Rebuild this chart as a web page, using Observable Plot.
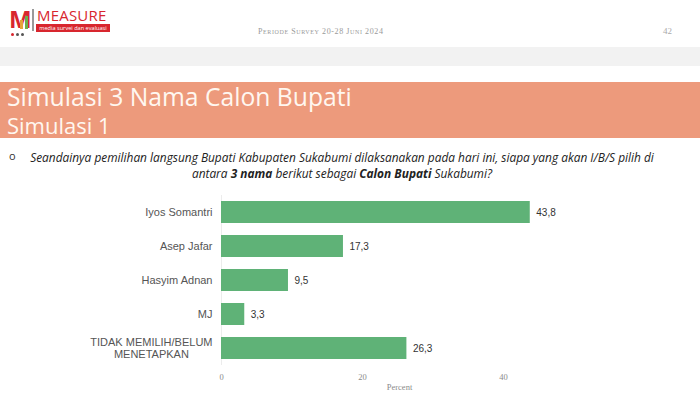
<!DOCTYPE html>
<html>
<head>
<meta charset="utf-8">
<script src="https://cdn.jsdelivr.net/npm/d3@7"></script>
<script src="https://cdn.jsdelivr.net/npm/@observablehq/plot@0.6"></script>
<style>
  html, body { margin: 0; padding: 0; background: #fff; }
  #page { position: relative; width: 700px; height: 400px; overflow: hidden; font-family: "Open Sans", sans-serif; }
  .abs { position: absolute; white-space: nowrap; }
  #logoM { left: 9px; top: 7px; font: bold 24px "Open Sans", sans-serif; color: #d8262e; line-height: 24px; }
  #logoBar { left: 32px; top: 9px; width: 2px; height: 22px; background: #9a9a9a; }
  #logoText { left: 37px; top: 8px; font: 15px "Open Sans", sans-serif; color: #d8262e; line-height: 15px; letter-spacing: 0.2px; }
  #logoSub { left: 36px; top: 24px; width: 74px; height: 8px; background: #d8262e; color: #fff; font: 5.6px "Open Sans", sans-serif; line-height: 8px; text-align: center; overflow: hidden; }
  .dot { position: absolute; width: 3px; height: 3px; background: #555; border-radius: 50%; }
  #periode { left: 258px; top: 27px; font: 8px "Liberation Serif", serif; color: #9a9a9a; font-variant: small-caps; letter-spacing: 0.6px; }
  #page42 { left: 663px; top: 26px; font: 9px "Liberation Serif", serif; color: #aaa; }
  #grayband { left: 0; top: 47px; width: 700px; height: 19px; background: #f2f2f2; }
  #band { left: 0; top: 82px; width: 700px; height: 56px; background: #ed9a7c; }
  #title1 { left: 7px; top: 85px; font: 24.7px "Open Sans", sans-serif; color: #fff7f0; line-height: 24px; }
  #title2 { left: 7px; top: 114px; font: 22px "Open Sans", sans-serif; color: #fff7f0; line-height: 22px; }
  #bullet { left: 9px; top: 148px; font: 11px "Open Sans", sans-serif; color: #333; }
  #question { left: 16px; top: 149px; width: 652px; text-align: center; font: italic 11.9px "Open Sans", sans-serif; color: #222; line-height: 16px; }
  #chart { left: 0; top: 190px; }
</style>
</head>
<body>
<div id="page">
  <div class="abs" id="logoM">M</div>
  <div class="dot" style="left:11px;top:33px;background:#d8262e"></div>
  <div class="dot" style="left:16px;top:33px;background:#555"></div>
  <div class="dot" style="left:21px;top:33px;background:#555"></div>
  <div class="abs" style="left:20px;top:20px;width:3px;height:9px;background:#e8a33a"></div>
  <div class="abs" style="left:25px;top:16px;width:3px;height:13px;background:#6cb04a"></div>
  <div class="abs" id="logoBar"></div>
  <div class="abs" id="logoText">MEASURE</div>
  <div class="abs" id="logoSub">media survei dan evaluasi</div>
  <div class="abs" id="periode">Periode Survey 20-28 Juni 2024</div>
  <div class="abs" id="page42">42</div>
  <div class="abs" id="grayband"></div>
  <div class="abs" id="band"></div>
  <div class="abs" id="title1">Simulasi 3 Nama Calon Bupati</div>
  <div class="abs" id="title2">Simulasi 1</div>
  <div class="abs" id="bullet">o</div>
  <div class="abs" id="question">Seandainya pemilihan langsung Bupati Kabupaten Sukabumi dilaksanakan pada hari ini, siapa yang akan I/B/S pilih di<br>antara <b>3 nama</b> berikut sebagai <b>Calon Bupati</b> Sukabumi?</div>
  <div class="abs" id="chart"></div>
</div>
<script>
const categories = ["Iyos Somantri", "Asep Jafar", "Hasyim Adnan", "MJ", "TIDAK MEMILIH/BELUM\nMENETAPKAN"];
const values = [43.8, 17.3, 9.5, 3.3, 26.3];
const xTicks = [0, 20, 40];

const data = categories.map((c, i) => ({ name: c, value: values[i] }));
const fmt = v => v.toFixed(1).replace(".", ",");

const chart = Plot.plot({
  width: 700,
  height: 210,
  marginLeft: 221,
  marginRight: 123,
  marginTop: 5,
  marginBottom: 35,
  style: { fontFamily: "Liberation Sans, Arial, sans-serif", background: "transparent", overflow: "visible" },
  x: { domain: [0, 50.5] },
  y: { domain: categories, paddingInner: 0.35, paddingOuter: 0.175 },
  marks: [
    Plot.ruleX([0], { stroke: "#ececec", strokeWidth: 1 }),
    Plot.barX(data, { y: "name", x: "value", fill: "#5fb277" }),
    Plot.text(data, { y: "name", x: "value", text: d => fmt(d.value), textAnchor: "start", dx: 6, fontSize: 10, fill: "#333" }),
    Plot.axisY({ tickSize: 0, tickPadding: 9, fontSize: 11, color: "#555", label: null, lineHeight: 1.05 }),
    Plot.axisX({ ticks: xTicks, tickSize: 0, tickPadding: 8, fontSize: 8.5, fontFamily: "Liberation Serif, serif", color: "#8a8a8a", label: "Percent", labelAnchor: "center", labelArrow: "none", labelOffset: 24 })
  ]
});
document.getElementById("chart").appendChild(chart);

// center multi-line y labels within their block (as in the reference)
chart.querySelectorAll("text").forEach(t => {
  const tspans = t.querySelectorAll("tspan");
  if (tspans.length > 1) {
    const bb = t.getBBox();
    const cx = bb.x + bb.width / 2;
    t.setAttribute("text-anchor", "middle");
    tspans.forEach(s => s.setAttribute("x", cx));
  }
});
</script>
</body>
</html>
